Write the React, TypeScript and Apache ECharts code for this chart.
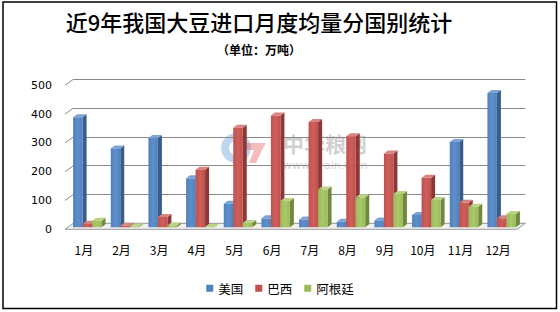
import React, { useEffect, useRef } from 'react';
import * as echarts from 'echarts';

const months = ['1月', '2月', '3月', '4月', '5月', '6月', '7月', '8月', '9月', '10月', '11月', '12月'];
const usa = [382, 274, 310, 170, 82, 31, 27, 19, 24, 43, 296, 466];
const brazil = [12, 5, 36, 200, 346, 388, 366, 316, 256, 172, 85, 31];
const argentina = [23, 3, 6, 1, 15, 91, 131, 104, 116, 95, 71, 46];
const yTicks = [0, 100, 200, 300, 400, 500];
const seriesNames = ['美国', '巴西', '阿根廷'];

const palette = [
  { front: '#4F81BD', light: '#5E8FCB', side: '#385D8A', top: '#7EA3D4' },
  { front: '#C0504D', light: '#CE5F5B', side: '#8C3836', top: '#D88380' },
  { front: '#9BBB59', light: '#A9C96A', side: '#71893F', top: '#BCD386' },
];

const BAR_W = 9.5;
const SHIFT_X = 3.5;
const SHIFT_Y = -2;
const DX = 4;
const DY = -3;
const WALL_X = 8.3;
const WALL_Y = -6;
const GRID_COLOR = '#8a8a8a';

function makeBarRender(s: number) {
  return (params: any, api: any) => {
    const idx = api.value(0);
    const v = api.value(1);
    const base = api.coord([idx, 0]);
    const top = api.coord([idx, v]);
    const x0 = base[0] - 1.5 * BAR_W + SHIFT_X + s * BAR_W;
    const x1 = x0 + BAR_W;
    const yb = base[1] + SHIFT_Y;
    const yt = top[1] + SHIFT_Y;
    const c = palette[s];
    return {
      type: 'group',
      children: [
        {
          type: 'polygon',
          shape: { points: [[x1, yt], [x1 + DX, yt + DY], [x1 + DX, yb + DY], [x1, yb]] },
          style: { fill: c.side },
        },
        {
          type: 'polygon',
          shape: { points: [[x0, yt], [x1, yt], [x1 + DX, yt + DY], [x0 + DX, yt + DY]] },
          style: { fill: c.top },
        },
        {
          type: 'rect',
          shape: { x: x0, y: yt, width: BAR_W, height: Math.max(0, yb - yt) },
          style: {
            fill: new echarts.graphic.LinearGradient(0, 0, 1, 0, [
              { offset: 0, color: c.front },
              { offset: 0.5, color: c.light },
              { offset: 1, color: c.front },
            ]),
          },
        },
      ],
    };
  };
}

function frameRender(params: any, api: any) {
  const v = api.value(1);
  const p = api.coord([0, v]);
  const band = api.size([1, 0])[0];
  const left = p[0] - band / 2;
  const width = band * months.length;
  const children: any[] = [];
  if (v === 0) {
    children.push({
      type: 'polygon',
      shape: {
        points: [
          [left, p[1]],
          [left + width, p[1]],
          [left + width + WALL_X, p[1] + WALL_Y],
          [left + WALL_X, p[1] + WALL_Y],
        ],
      },
      style: { fill: '#f0f0f0', stroke: '#9a9a9a', lineWidth: 1 },
    });
  } else {
    children.push({
      type: 'line',
      shape: { x1: left, y1: p[1], x2: left + WALL_X, y2: p[1] + WALL_Y },
      style: { stroke: GRID_COLOR, lineWidth: 1 },
    });
  }
  return { type: 'group', children };
}

export default function App() {
  const ref = useRef<HTMLDivElement>(null);
  useEffect(() => {
    if (!ref.current) return;
    const chart = echarts.init(ref.current, undefined, { renderer: 'svg' });
    const values = [usa, brazil, argentina];
    chart.setOption({
      animation: false,
      backgroundColor: '#ffffff',
      textStyle: { fontFamily: 'Noto Sans CJK SC' },
      title: [
        {
          text: '近9年我国大豆进口月度均量分国别统计',
          left: 259,
          top: 10,
          textAlign: 'center',
          padding: 0,
          textStyle: { fontSize: 22, fontWeight: 500, color: '#000', fontFamily: 'Noto Sans CJK SC' },
        },
        {
          text: '（单位：万吨）',
          left: 259,
          top: 43,
          textAlign: 'center',
          padding: 0,
          textStyle: { fontSize: 12, fontWeight: 'bold', color: '#000', fontFamily: 'Noto Sans CJK SC' },
        },
      ],
      legend: {
        data: seriesNames,
        left: 'center',
        top: 277,
        icon: 'rect',
        itemWidth: 7,
        itemHeight: 7,
        itemGap: 12,
        textStyle: { fontSize: 12.5, color: '#000', fontFamily: 'Noto Sans CJK SC' },
      },
      grid: [
        { left: 65, top: 85.3, width: 452, height: 144 },
        { left: 73.3, top: 79.3, width: 452, height: 144 },
      ],
      xAxis: [
        {
          type: 'category',
          gridIndex: 0,
          data: months,
          axisLine: { show: false },
          axisTick: { show: false },
          axisLabel: { margin: 14, fontSize: 12, color: '#000', fontFamily: 'Noto Sans CJK SC' },
        },
        { type: 'category', gridIndex: 1, data: months, show: false },
      ],
      yAxis: [
        {
          type: 'value',
          gridIndex: 0,
          min: 0,
          max: 500,
          interval: 100,
          splitLine: { show: false },
          axisLine: { show: false },
          axisTick: { show: false },
          axisLabel: { margin: 13, fontSize: 11, color: '#000', fontFamily: 'DejaVu Sans' },
        },
        {
          type: 'value',
          gridIndex: 1,
          min: 0,
          max: 500,
          interval: 100,
          axisLabel: { show: false },
          axisLine: { show: false },
          axisTick: { show: false },
          splitLine: { show: true, lineStyle: { color: GRID_COLOR, width: 1 } },
        },
      ],
      graphic: [
        {
          type: 'rect',
          shape: { x: 3, y: 2, width: 553.5, height: 306.5 },
          style: { fill: 'none', stroke: '#000', lineWidth: 1.5 },
          silent: true,
          z: 100,
        },
        {
          type: 'group',
          silent: true,
          z: 50,
          children: [
            {
              type: 'ring',
              shape: { cx: 236, cy: 148, r: 15, r0: 7 },
              style: { fill: 'rgba(110,165,220,0.45)' },
            },
            {
              type: 'polygon',
              shape: { points: [[243, 143], [266, 143], [262, 150], [256, 163], [249, 163], [254, 150], [243, 150]] },
              style: { fill: 'rgba(225,90,90,0.4)' },
            },
            {
              type: 'text',
              x: 283,
              y: 132,
              style: {
                text: '中华粮网',
                fontSize: 21,
                fontWeight: 'bold',
                fill: 'rgba(120,120,120,0.35)',
                fontFamily: 'Noto Sans CJK SC',
              },
            },
            {
              type: 'text',
              x: 283,
              y: 160,
              style: {
                text: 'www.grain.com',
                fontSize: 11,
                fill: 'rgba(120,120,120,0.35)',
                fontFamily: 'DejaVu Sans',
              },
            },
          ],
        },
      ],
      series: [
        {
          type: 'custom',
          name: 'frame',
          xAxisIndex: 0,
          yAxisIndex: 0,
          silent: true,
          z: 1,
          renderItem: frameRender,
          encode: { x: 0, y: 1 },
          data: yTicks.map((t) => [0, t]),
        },
        ...seriesNames.map((name, s) => ({
          type: 'custom',
          name,
          xAxisIndex: 0,
          yAxisIndex: 0,
          z: 2 + s,
          itemStyle: { color: palette[s].front },
          renderItem: makeBarRender(s),
          encode: { x: 0, y: 1 },
          data: values[s].map((v, i) => [i, v]),
        })),
      ],
    });
    return () => chart.dispose();
  }, []);
  return (
    <div
      ref={ref}
      style={{ position: 'fixed', left: 0, top: 0, width: 560, height: 312 }}
    />
  );
}
